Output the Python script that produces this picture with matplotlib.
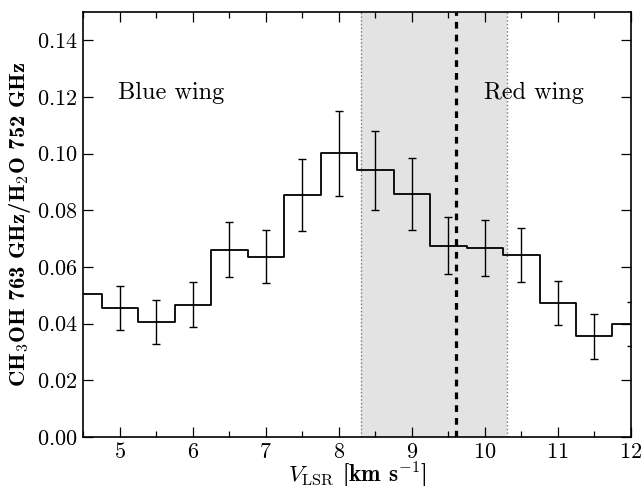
import numpy as np
import matplotlib
matplotlib.use('Agg')
import matplotlib.pyplot as plt
from matplotlib.ticker import MultipleLocator

plt.rcParams['font.family'] = 'serif'
plt.rcParams['font.serif'] = ['cmr10']
plt.rcParams['mathtext.fontset'] = 'cm'
plt.rcParams['axes.formatter.use_mathtext'] = True

# velocity channels and CH3OH/H2O line ratio
v_lsr = np.arange(4.5, 12.01, 0.5)
ratio = [0.0504, 0.0455, 0.0407, 0.0467, 0.0661, 0.0637, 0.0853, 0.1002,
         0.0942, 0.0857, 0.0675, 0.0666, 0.0643, 0.0473, 0.0355, 0.0400]
ratio_err = [0.0, 0.0078, 0.0078, 0.0079, 0.0098, 0.0095, 0.0127, 0.0150,
             0.0139, 0.0127, 0.0101, 0.0099, 0.0096, 0.0079, 0.0080, 0.0078]

core_lo, core_hi = 8.3, 10.3
v_sys = 9.6

fig = plt.figure(figsize=(6.41, 4.86), dpi=100)
ax = fig.add_axes([0.130, 0.101, 0.854, 0.874])

ax.axvspan(core_lo, core_hi, color='#e3e3e3', lw=0, zorder=0)
ax.axvline(core_lo, color='#777777', ls=':', lw=1, zorder=1)
ax.axvline(core_hi, color='#777777', ls=':', lw=1, zorder=1)

ax.step(v_lsr, ratio, where='mid', color='k', lw=1.3, zorder=3)
ax.errorbar(v_lsr[1:], ratio[1:], yerr=ratio_err[1:], fmt='none',
            ecolor='k', elinewidth=1.0, capsize=3, capthick=1.0, zorder=3)

ax.axvline(v_sys, color='k', ls=(0, (2.1, 1.9)), lw=2.3, zorder=4)

ax.text(4.97, 0.1215, 'Blue wing', fontsize=17.5, va='center', ha='left')
ax.text(9.99, 0.1215, 'Red wing', fontsize=17.5, va='center', ha='left')

ax.set_xlim(4.5, 12)
ax.set_ylim(0, 0.15)
ax.xaxis.set_major_locator(MultipleLocator(1))
ax.xaxis.set_minor_locator(MultipleLocator(0.5))
ax.yaxis.set_major_locator(MultipleLocator(0.02))
ax.tick_params(which='both', direction='in', top=True, right=True, labelsize=16)
ax.tick_params(which='major', length=7, width=0.9, pad=4)
ax.tick_params(which='minor', length=4, width=0.9)
for s in ax.spines.values():
    s.set_linewidth(1.2)

ax.set_xlabel(r'$V_{\rm LSR}$ [km s$^{-1}$]', fontsize=16.8, family='cmb10', labelpad=-1.5)
ax.set_ylabel(r'CH$_3$OH 763 GHz/H$_2$O 752 GHz', fontsize=16.3, family='cmb10', labelpad=3)

fig.savefig('out.png', dpi=100)
